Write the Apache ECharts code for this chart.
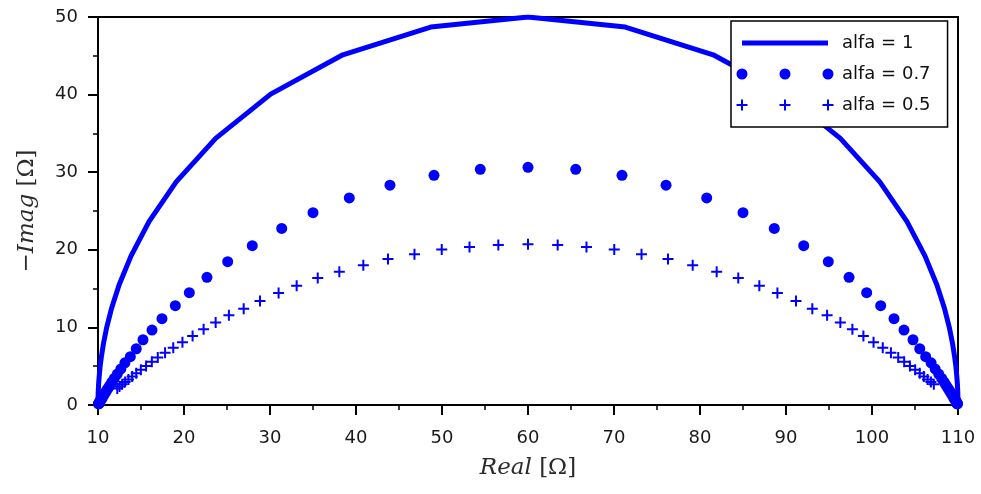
<!DOCTYPE html>
<html>
<head>
<meta charset="utf-8">
<script src="https://cdn.jsdelivr.net/npm/echarts@6/dist/echarts.min.js"></script>
<style>
html,body{margin:0;padding:0;background:#fff;}
#chart{width:981px;height:494px;}
</style>
</head>
<body>
<div id="chart"></div>
<script>
// ---- data ----
const seriesNames = ['alfa = 1', 'alfa = 0.7', 'alfa = 0.5'];

const alfa1Real = [10.0, 10.0, 10.0, 10.0, 10.0, 10.01, 10.02, 10.04, 10.06, 10.1, 10.16, 10.25, 10.4, 10.63, 10.99, 11.56, 12.45, 13.83, 15.93, 19.09, 23.68, 30.08, 38.47, 48.69, 60.0,
  71.31, 81.53, 89.92, 96.32, 100.91, 104.07, 106.17, 107.55, 108.44, 109.01, 109.37, 109.6, 109.75, 109.84, 109.9, 109.94, 109.96, 109.98, 109.99, 110.0, 110.0, 110.0, 110.0, 110.0];
const alfa1Imag = [0, 0.16, 0.25, 0.4, 0.63, 1.0, 1.58, 1.99, 2.51, 3.16, 3.97, 5.0, 6.28, 7.89, 9.9, 12.39, 15.46, 19.19, 23.63, 28.75, 34.36, 40.06, 45.13, 48.7, 50.0,
  48.7, 45.13, 40.06, 34.36, 28.75, 23.63, 19.19, 15.46, 12.39, 9.9, 7.89, 6.28, 5.0, 3.97, 3.16, 2.51, 1.99, 1.58, 1.0, 0.63, 0.4, 0.25, 0.16, 0];

const alfa07Real = [10.07, 10.08, 10.10, 10.12, 10.14, 10.16, 10.19, 10.22, 10.26, 10.31, 10.36, 10.43, 10.50, 10.59, 10.70, 10.83, 10.97, 11.15, 11.36, 11.60,
  11.89, 12.24, 12.66, 13.13, 13.76, 14.45, 15.23, 16.28, 17.44, 18.99, 20.62, 22.67, 25.08, 27.94, 31.36, 35.00, 39.22, 43.95, 49.07, 54.45, 60.00,
  65.55, 70.93, 76.05, 80.78, 85.00, 88.64, 92.06, 94.92, 97.33, 99.38, 101.01, 102.56, 103.72, 104.77, 105.55, 106.24, 106.87, 107.34, 107.76, 108.11,
  108.40, 108.64, 108.85, 109.03, 109.17, 109.30, 109.41, 109.50, 109.57, 109.64, 109.69, 109.74, 109.78, 109.81, 109.84, 109.86, 109.88, 109.90, 109.92, 109.93];
const alfa07Imag = [0.14, 0.17, 0.19, 0.23, 0.27, 0.32, 0.37, 0.44, 0.51, 0.60, 0.70, 0.82, 0.97, 1.13, 1.33, 1.56, 1.83, 2.14, 2.50, 2.93,
  3.42, 3.99, 4.65, 5.43, 6.22, 7.25, 8.41, 9.66, 11.12, 12.80, 14.47, 16.46, 18.47, 20.53, 22.75, 24.78, 26.68, 28.33, 29.60, 30.37, 30.63,
  30.37, 29.60, 28.33, 26.68, 24.78, 22.75, 20.53, 18.47, 16.46, 14.47, 12.80, 11.12, 9.66, 8.41, 7.25, 6.22, 5.43, 4.65, 3.99, 3.42,
  2.93, 2.50, 2.14, 1.83, 1.56, 1.33, 1.13, 0.97, 0.82, 0.70, 0.60, 0.51, 0.44, 0.37, 0.32, 0.27, 0.23, 0.19, 0.17, 0.14];

const alfa05Real = [12.24, 12.50, 12.81, 13.15, 13.54, 13.97, 14.45, 14.98, 15.59, 16.26, 16.95, 17.80, 18.75, 19.82, 21.00, 22.28, 23.68, 25.22, 26.94, 28.84,
  31.00, 33.10, 35.55, 38.06, 40.85, 43.72, 46.80, 49.97, 53.20, 56.55, 60.00,
  63.45, 66.80, 70.03, 73.20, 76.28, 79.15, 81.94, 84.45, 86.90, 89.00, 91.16, 93.06, 94.78, 96.32, 97.72, 99.00, 100.18, 101.25, 102.20, 103.05,
  103.74, 104.41, 105.02, 105.55, 106.03, 106.46, 106.85, 107.19];
const alfa05Imag = [2.14, 2.39, 2.66, 2.96, 3.30, 3.67, 4.08, 4.53, 5.02, 5.56, 6.12, 6.72, 7.38, 8.10, 8.90, 9.75, 10.62, 11.55, 12.41, 13.40,
  14.42, 15.37, 16.37, 17.18, 18.02, 18.81, 19.43, 20.03, 20.36, 20.62, 20.71,
  20.62, 20.36, 20.03, 19.43, 18.81, 18.02, 17.18, 16.37, 15.37, 14.42, 13.40, 12.41, 11.55, 10.62, 9.75, 8.90, 8.10, 7.38, 6.72, 6.12,
  5.56, 5.02, 4.53, 4.08, 3.67, 3.30, 2.96, 2.66];

const xTicks = {min: 10, max: 110, step: 10};
const yTicks = {min: 0, max: 50, step: 10};

// ---- helpers ----
function zip(xs, ys) { return xs.map((x, i) => [x, ys[i]]); }

const BLUE = '#0000ff';
const crossSymbol = 'path://M4.5,0 L6.5,0 L6.5,4.5 L11,4.5 L11,6.5 L6.5,6.5 L6.5,11 L4.5,11 L4.5,6.5 L0,6.5 L0,4.5 L4.5,4.5 Z';

function crossAt(c) {
  return 'M' + (c - 1) + ',0.5 L' + (c + 1) + ',0.5 L' + (c + 1) + ',5 L' + (c + 5.5) + ',5 L' + (c + 5.5) + ',7 L' + (c + 1) + ',7 L' + (c + 1) + ',11.5 L' + (c - 1) + ',11.5 L' + (c - 1) + ',7 L' + (c - 5.5) + ',7 L' + (c - 5.5) + ',5 L' + (c - 1) + ',5 Z ';
}
function dotAt(c) {
  return 'M' + (c - 5.5) + ',6 A5.5,5.5 0 1,1 ' + (c + 5.5) + ',6 A5.5,5.5 0 1,1 ' + (c - 5.5) + ',6 Z ';
}
const centers = [5.5, 48.5, 91.5];
const lineIcon = 'path://M0,0 M97,12 M5.5,3.5 L91.5,3.5 L91.5,8.5 L5.5,8.5 Z';
const dotIcon = 'path://M0,0 M97,12 ' + centers.map(dotAt).join('');
const crossIcon = 'path://M0,0 M97,12 ' + centers.map(crossAt).join('');

const tickFont = {fontFamily: 'DejaVu Sans', fontSize: 18, color: '#1a1a1a'};
const nameRich = {
  i: {fontFamily: 'DejaVu Serif', fontStyle: 'italic', fontSize: 23, color: '#2a2a2a'},
  n: {fontFamily: 'DejaVu Serif', fontSize: 23, color: '#2a2a2a'}
};

function axisCommon() {
  return {
    type: 'value',
    nameLocation: 'middle',
    nameTextStyle: {fontFamily: 'DejaVu Serif', fontSize: 23, color: '#2a2a2a', rich: nameRich},
    axisLine: {show: true, lineStyle: {color: '#000', width: 2}},
    axisTick: {show: true, inside: false, length: 10, lineStyle: {color: '#000', width: 2}},
    minorTick: {show: true, splitNumber: 2, length: 5, lineStyle: {color: '#000', width: 1.5}},
    splitLine: {show: false},
    minorSplitLine: {show: false}
  };
}

const chart = echarts.init(document.getElementById('chart'), null, {renderer: 'canvas'});
const option = {
  animation: false,
  backgroundColor: '#fff',
  grid: {left: 98, right: 23, top: 17, bottom: 89, show: true, borderColor: '#000', borderWidth: 2, backgroundColor: 'transparent'},
  xAxis: Object.assign(axisCommon(), {
    min: xTicks.min, max: xTicks.max, interval: xTicks.step,
    name: '{i|Real} {n|[Ω]}',
    nameGap: 52,
    axisLabel: Object.assign({margin: 24}, tickFont)
  }),
  yAxis: Object.assign(axisCommon(), {
    min: yTicks.min, max: yTicks.max, interval: yTicks.step,
    name: '{n|−}{i|Imag} {n|[Ω]}',
    nameGap: 59,
    axisLabel: Object.assign({margin: 20}, tickFont)
  }),
  legend: {
    orient: 'vertical',
    left: 731, top: 21,
    padding: [13, 17, 13, 5.5],
    itemGap: 13,
    itemWidth: 97, itemHeight: 12,
    backgroundColor: '#fff',
    borderColor: '#000', borderWidth: 1.5, borderRadius: 0,
    selectedMode: false,
    itemStyle: {borderWidth: 0},
    textStyle: {fontFamily: 'DejaVu Sans', fontSize: 18, color: '#111', padding: [0, 0, 0, 3.5]},
    data: [
      {name: seriesNames[0], icon: lineIcon},
      {name: seriesNames[1], icon: dotIcon},
      {name: seriesNames[2], icon: crossIcon}
    ]
  },
  series: [
    {
      name: seriesNames[0], type: 'line', data: zip(alfa1Real, alfa1Imag),
      showSymbol: false, symbol: 'none', smooth: false, clip: true,
      lineStyle: {color: BLUE, width: 5, join: 'round'}, itemStyle: {color: BLUE}, z: 2
    },
    {
      name: seriesNames[1], type: 'scatter', data: zip(alfa07Real, alfa07Imag),
      symbol: 'circle', symbolSize: 11, itemStyle: {color: BLUE, opacity: 1}, z: 3
    },
    {
      name: seriesNames[2], type: 'scatter', data: zip(alfa05Real, alfa05Imag),
      symbol: crossSymbol, symbolSize: 11, itemStyle: {color: BLUE, opacity: 1}, z: 4
    }
  ]
};
chart.setOption(option);
</script>
</body>
</html>
